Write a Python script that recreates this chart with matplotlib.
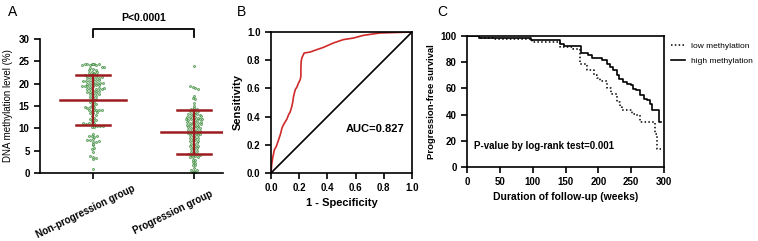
import numpy as np
import matplotlib.pyplot as plt

plt.rcParams['font.family'] = ['Liberation Sans', 'DejaVu Sans']
plt.rcParams['font.weight'] = 'bold'
plt.rcParams['axes.labelweight'] = 'bold'
plt.rcParams['axes.linewidth'] = 1.2

# -- Data ----------------------------------------------------------------------

groups = ["Non-progression group", "Progression group"]

nonprog_vals = [24.2, 24.3, 24.4, 24.3, 24.2, 24.4, 24.3, 24.1, 24.3,
                23.8, 23.6, 23.7,
                23.2, 23.0, 23.1,
                22.6, 22.4, 22.5, 22.7,
                21.9, 22.0, 21.8, 22.1, 21.9, 22.0,
                21.3, 21.4, 21.2, 21.3, 21.5, 21.2,
                20.7, 20.8, 20.6, 20.7, 20.9, 20.6, 20.8,
                20.1, 20.0, 20.2, 20.1, 19.9, 20.2, 20.0,
                19.5, 19.4, 19.6, 19.5, 19.3, 19.6, 19.4,
                18.9, 18.8, 19.0, 18.9, 18.7, 19.0,
                18.3, 18.2, 18.4, 18.3, 18.1,
                17.7, 17.6, 17.8, 17.7,
                17.1, 17.0, 17.2,
                16.5, 16.4, 16.6,
                15.9, 16.0,
                15.3, 15.2, 15.4,
                14.7, 14.6, 14.8, 14.7,
                14.1, 14.0, 14.2, 14.1, 13.9, 14.0, 14.2,
                13.5, 13.4, 13.6,
                12.9, 12.8,
                12.3, 12.2,
                11.7, 11.6, 11.8,
                11.1, 11.0, 11.2, 11.1, 10.9,
                10.5, 10.4, 10.6, 10.5, 10.3, 10.6,
                8.8, 8.2, 8.3, 8.1, 8.2,
                7.5, 7.4, 7.6, 7.0, 6.9, 7.1,
                6.3, 6.4, 5.4, 5.5, 4.8,
                3.7, 3.6, 3.2, 3.3, 1.0]

prog_vals = [24.0,
             19.4, 19.3, 19.0, 18.9,
             17.2, 16.7, 16.5,
             15.6, 15.0,
             14.4, 14.5, 14.3,
             13.8, 13.9, 13.7, 13.8,
             13.2, 13.1, 13.3, 13.2, 13.0,
             12.6, 12.5, 12.7, 12.6, 12.4, 12.7,
             12.0, 11.9, 12.1, 12.0, 11.8, 12.1, 12.0,
             11.4, 11.3, 11.5, 11.4, 11.2, 11.5,
             10.8, 10.7, 10.9, 10.8, 10.6, 10.9,
             10.2, 10.1, 10.3, 10.2, 10.0,
             9.6, 9.5, 9.7, 9.6, 9.4,
             9.0, 8.9, 9.1, 9.0, 8.8,
             8.4, 8.3, 8.5, 8.4,
             7.8, 7.7, 7.9, 7.8,
             7.2, 7.1, 7.3, 7.2,
             6.6, 6.5, 6.7,
             6.0, 5.9, 6.1, 6.0,
             5.4, 5.3, 5.5,
             4.8, 4.7, 4.9,
             4.2, 4.1, 4.3, 4.2, 4.0,
             3.6, 3.5, 3.7, 3.6,
             3.0, 2.9,
             2.4, 2.3,
             1.8, 1.7,
             1.2,
             0.6, 0.5, 0.7,
             0.2, 0.3]

group_mean = [16.4, 9.2]
group_sd = [5.6, 4.9]

roc_fpr = [0, 0.005, 0.014, 0.024, 0.038, 0.054, 0.066, 0.078, 0.089, 0.113,
           0.125, 0.136, 0.148, 0.155, 0.160, 0.172, 0.184, 0.195, 0.207,
           0.212, 0.212, 0.214, 0.219, 0.235, 0.278, 0.325, 0.372, 0.442,
           0.513, 0.584, 0.654, 0.772, 1.0]
roc_tpr = [0, 0.059, 0.118, 0.165, 0.189, 0.236, 0.272, 0.319, 0.343, 0.383,
           0.414, 0.433, 0.473, 0.508, 0.544, 0.591, 0.610, 0.638, 0.662,
           0.686, 0.745, 0.792, 0.816, 0.851, 0.858, 0.875, 0.891, 0.922,
           0.946, 0.957, 0.976, 0.993, 1.0]

low_t = [0, 18, 40, 99, 142, 162, 172, 182, 193, 198, 203, 213, 220, 228,
         233, 236, 251, 256, 264, 286, 289, 296]
low_s = [100, 98.5, 98.0, 95.5, 91.6, 90.0, 79.0, 74.0, 70.0, 68.0, 66.0,
         60.6, 55.5, 49.6, 45.8, 43.3, 40.7, 39.4, 34.4, 25.0, 14.0, 14.0]

high_t = [0, 18, 98, 142, 147, 173, 185, 190, 205, 213, 218, 223, 228, 232,
          237, 243, 249, 253, 258, 264, 270, 274, 278, 281, 293, 296]
high_s = [100, 98.5, 97.2, 94.1, 92.1, 87.3, 85.2, 83.5, 81.4, 78.9, 76.3,
          73.8, 70.0, 67.4, 64.9, 63.6, 62.3, 59.8, 58.5, 54.7, 52.2, 50.9,
          48.3, 43.3, 34.4, 34.4]

red = "#9c1c20"


def swarm_x(center, vals, bin_h=0.6, dx=0.028):
    # simple row-based beeswarm, GraphPad style
    vals = np.asarray(vals)
    rows = np.round(vals / bin_h).astype(int)
    xs = np.zeros(len(vals))
    for r in np.unique(rows):
        idx = np.where(rows == r)[0]
        n = len(idx)
        xs[idx] = center + (np.arange(n) - (n - 1) / 2) * dx
    return xs


fig = plt.figure(figsize=(7.58, 2.41), dpi=100)

# -- Panel A: scatter with mean and SD -------------------------------------------

axA = fig.add_axes([40 / 758, 1 - 173 / 241, 183 / 758, 134 / 241])
for i, vals in enumerate([nonprog_vals, prog_vals]):
    axA.scatter(swarm_x(i, vals), vals, s=2.2, facecolor="#a5d6a5",
                edgecolor="#2f7d2f", linewidths=0.4, zorder=2)
    m, sd = group_mean[i], group_sd[i]
    axA.plot([i - 0.33, i + 0.33], [m, m], color=red, lw=1.8, zorder=3)
    axA.plot([i, i], [m - sd, m + sd], color=red, lw=1.6, zorder=3)
    for y in (m - sd, m + sd):
        axA.plot([i - 0.17, i + 0.17], [y, y], color=red, lw=1.8, zorder=3)

axA.set_xlim(-0.525, 1.287)
axA.set_ylim(0, 30)
axA.set_yticks(range(0, 31, 5))
axA.set_xticks([0, 1])
axA.set_xticklabels([])
# GraphPad places the rotated labels a bit off their ticks
for x, y, name in zip([-0.07, 0.79], [-0.287, -0.295], groups):
    axA.text(x, y, name, rotation=26, ha="center", va="center", fontsize=7,
             transform=axA.get_xaxis_transform())
axA.spines[["top", "right"]].set_visible(False)
axA.tick_params(labelsize=7, length=4, width=1.2)
axA.set_ylabel("DNA methylation level (%)", fontsize=7, fontweight="normal", labelpad=4)
axA.plot([0, 0, 1, 1], [30.4, 32.2, 32.2, 30.4], color="black", lw=1.3, clip_on=False)
axA.text(0.5, 34.6, "P<0.0001", ha="center", va="center", fontsize=7.5)

# -- Panel B: ROC ----------------------------------------------------------------

axB = fig.add_axes([271 / 758, 1 - 173 / 241, 141 / 758, 141 / 241])
axB.plot(roc_fpr, roc_tpr, color="#d02a2a", lw=1.2)
axB.plot([0, 1], [0, 1], color="black", lw=1.2)
axB.set_xlim(0, 1)
axB.set_ylim(0, 1)
axB.set_xticks(np.arange(0, 1.01, 0.2))
axB.set_yticks(np.arange(0, 1.01, 0.2))
axB.tick_params(labelsize=7, length=4, width=1.2)
axB.set_xlabel("1 - Specificity", fontsize=8, labelpad=3)
axB.set_ylabel("Sensitivity", fontsize=8, labelpad=3)
axB.text(0.95, 0.31, "AUC=0.827", ha="right", va="center", fontsize=8)

# -- Panel C: Kaplan-Meier -------------------------------------------------------

axC = fig.add_axes([467 / 758, 1 - 167 / 241, 197 / 758, 131 / 241])
axC.plot(low_t, low_s, drawstyle="steps-post", color="black", lw=1.1,
         linestyle=(0, (1, 1.5)), label="low methylation")
axC.plot(high_t, high_s, drawstyle="steps-post", color="black", lw=1.2,
         label="high methylation")
axC.set_xlim(0, 300)
axC.set_ylim(0, 100)
axC.set_xticks(range(0, 301, 50))
axC.set_yticks(range(0, 101, 20))
axC.tick_params(labelsize=7, length=4, width=1.2)
axC.set_xlabel("Duration of follow-up (weeks)", fontsize=7.5, labelpad=3)
axC.set_ylabel("Progression-free survival", fontsize=6.8, labelpad=3)
axC.text(10, 16, "P-value by log-rank test=0.001", fontsize=7, va="center")
leg = axC.legend(loc="upper left", bbox_to_anchor=(1.0, 1.01), frameon=False,
                 handlelength=1.6, handletextpad=0.8, labelspacing=0.9,
                 prop={"size": 6, "weight": "normal"})

# -- Panel letters ---------------------------------------------------------------

for x, s in [(8, "A"), (237, "B"), (437, "C")]:
    fig.text(x / 758, 1 - 12 / 241, s, fontsize=10, fontweight="normal",
             ha="left", va="center")

fig.savefig("out.png", dpi=100)
